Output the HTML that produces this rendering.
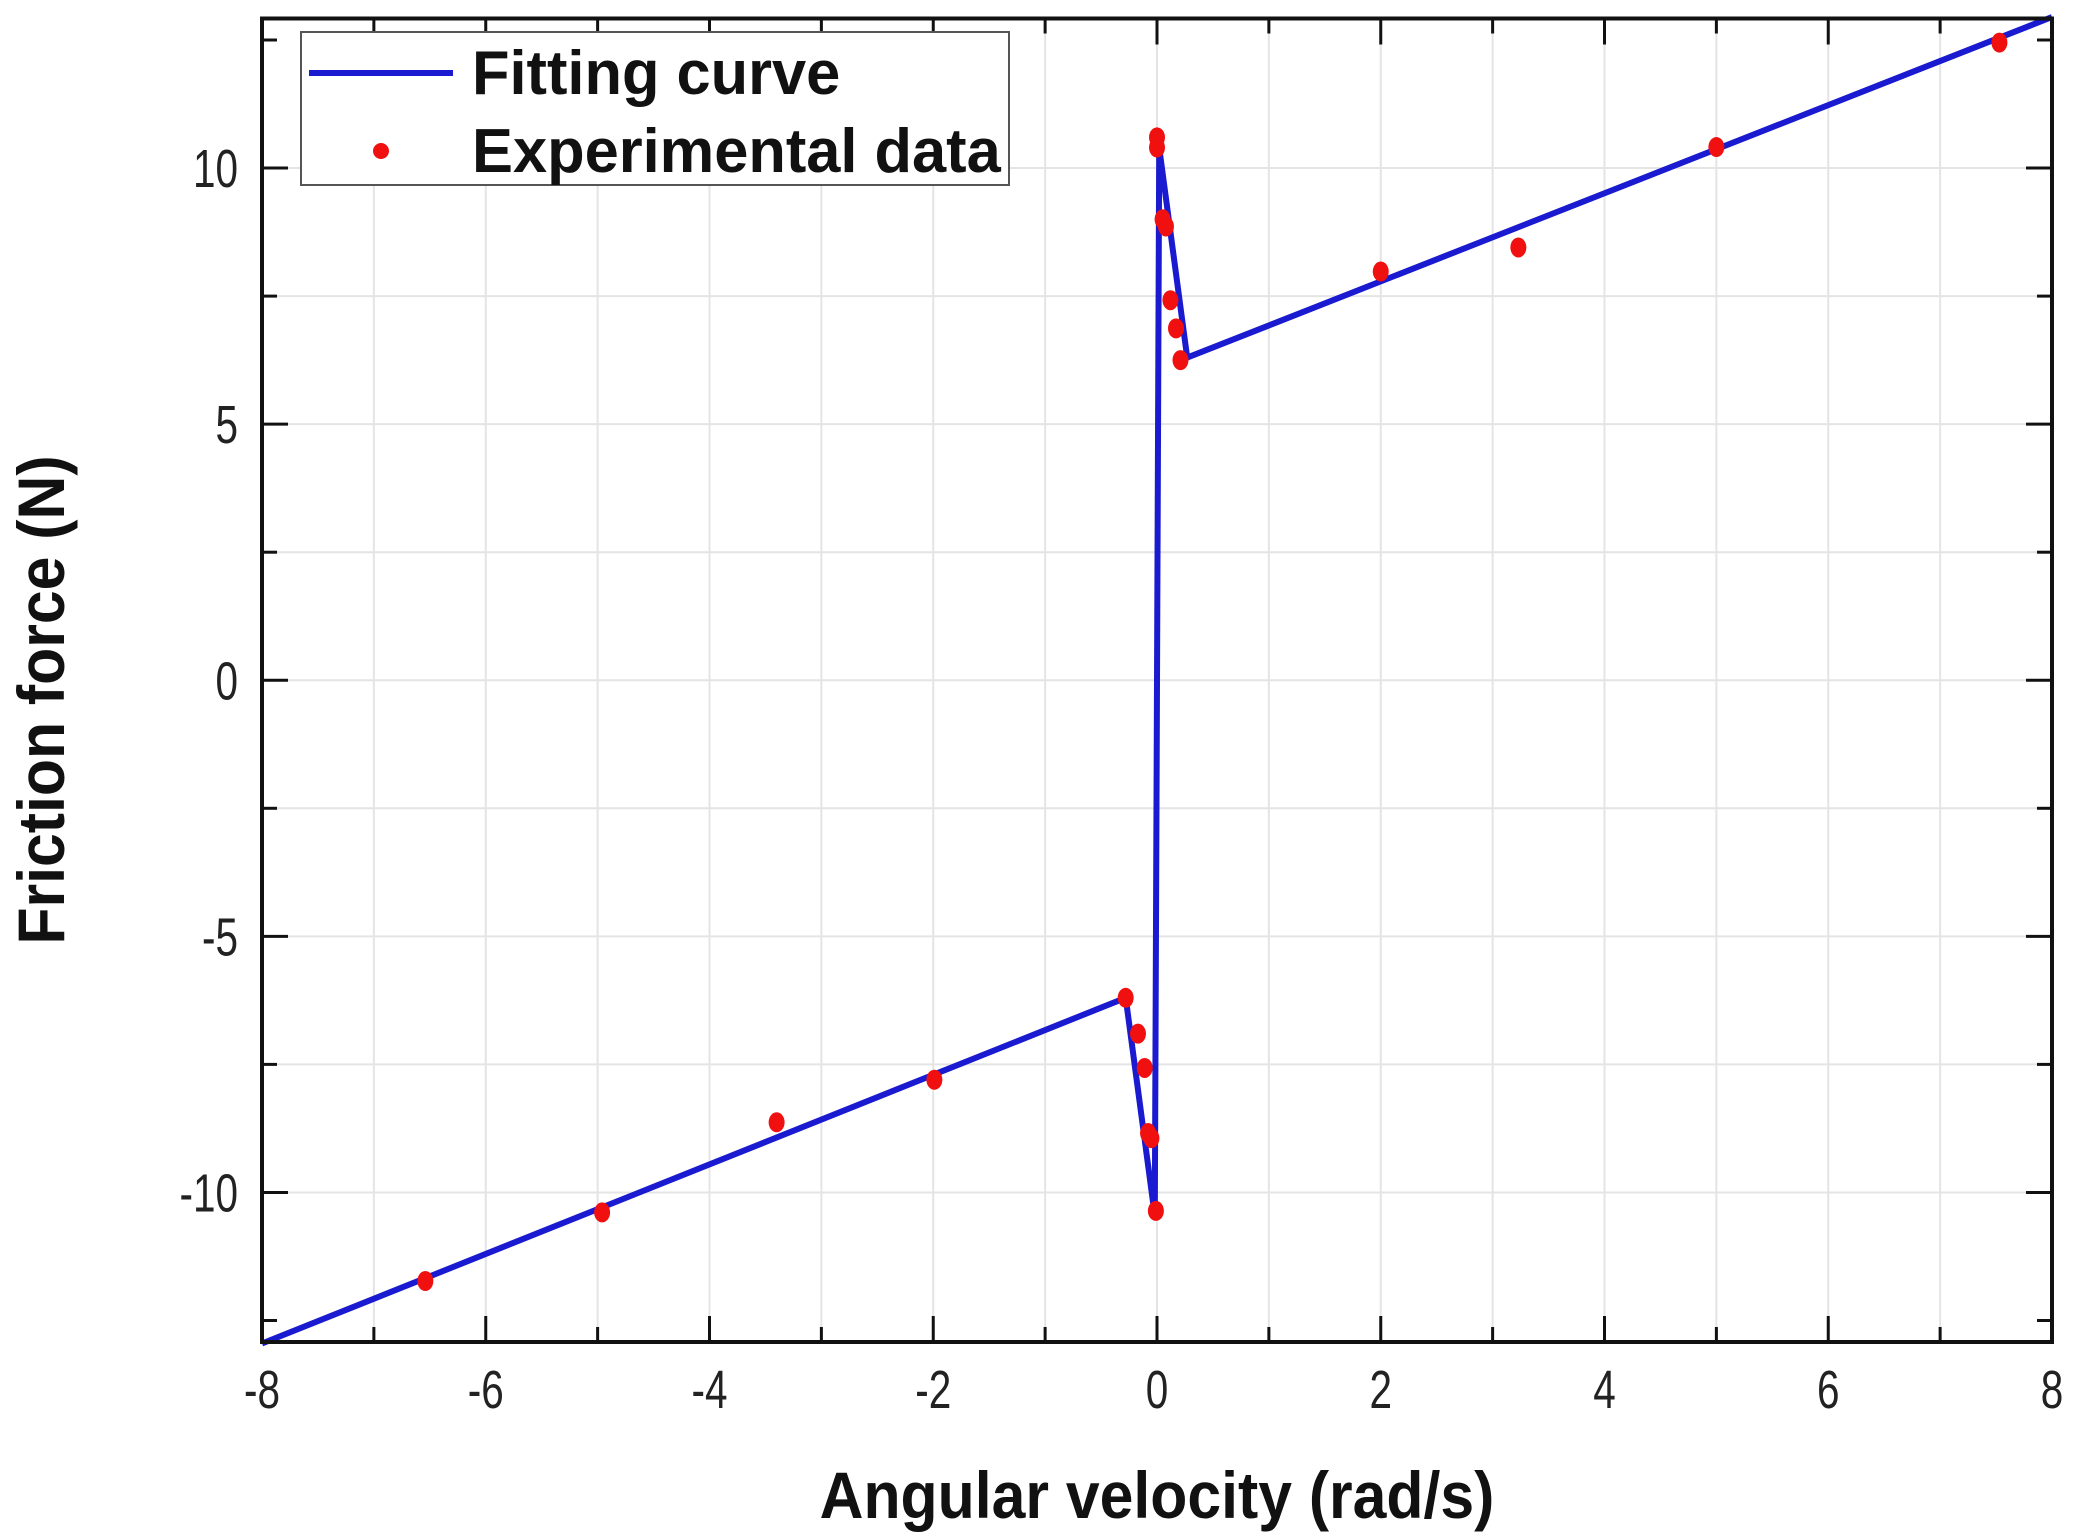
<!DOCTYPE html>
<html><head><meta charset="utf-8"><style>
html,body{margin:0;padding:0;background:#fff;}
svg{display:block;font-family:"Liberation Sans",Arial,sans-serif;}
</style></head><body>
<svg id="chart" width="2073" height="1537" viewBox="0 0 2073 1537" xmlns="http://www.w3.org/2000/svg">
<rect width="2073" height="1537" fill="#fff"/>
<g id="grid"></g>
<g id="ticks"></g>
<g id="labels"></g>
<g id="series"></g>
<rect x="262" y="18.5" width="1790" height="1323.5" fill="none" stroke="#111" stroke-width="4"/>
<text x="0" y="0" text-anchor="middle" font-size="66" font-weight="bold" fill="#111" transform="translate(1157 1518) scale(0.92 1)">Angular velocity (rad/s)</text>
<text x="0" y="0" text-anchor="middle" font-size="66" font-weight="bold" fill="#111" transform="translate(64 700) rotate(-90) scale(0.92 1)">Friction force (N)</text>
<g>
<rect x="301" y="32" width="708" height="153" fill="#fff" stroke="#555" stroke-width="2"/>
<line x1="309" y1="73" x2="453" y2="73" stroke="#1a1ad0" stroke-width="6"/>
<text x="0" y="0" font-size="62" font-weight="bold" fill="#111" transform="translate(472 94) scale(0.99 1)">Fitting curve</text>
<circle cx="381" cy="151" r="8" fill="#f01010"/>
<text x="0" y="0" font-size="62" font-weight="bold" fill="#111" transform="translate(472 172) scale(0.99 1)">Experimental data</text>
</g>
</svg>
<script>
const xTicks = [-8,-6,-4,-2,0,2,4,6,8];
const yTicks = [-10,-5,0,5,10];
const expX = [-6.54,-4.96,-3.40,-1.99,-0.28,-0.17,-0.11,-0.08,-0.05,-0.01,0,0,0.05,0.08,0.12,0.17,0.21,2.0,3.23,5.0,7.53];
const expY = [-11.73,-10.39,-8.63,-7.80,-6.20,-6.90,-7.57,-8.84,-8.94,-10.36,10.6,10.4,9.0,8.86,7.42,6.87,6.25,7.98,8.45,10.41,12.45];
const fitX = [-8,-0.28,-0.02,0.02,0.27,8];
const fitY = [-12.95,-6.2,-10.45,10.4,6.3,12.95];

const X0=262, X1=2052, Y0=18.5, Y1=1342;
const xMin=-8, xMax=8, yMin=-12.92, yMax=12.92;
const sx = v => X0 + (v - xMin) / (xMax - xMin) * (X1 - X0);
const sy = v => Y1 - (v - yMin) / (yMax - yMin) * (Y1 - Y0);
const NS = "http://www.w3.org/2000/svg";
function mk(tag, attrs, parent){
  const e = document.createElementNS(NS, tag);
  for (const k in attrs) e.setAttribute(k, attrs[k]);
  document.getElementById(parent).appendChild(e);
  return e;
}
for (let v = -7; v <= 7; v += 1) {
  const l = mk('line', {x1:sx(v), x2:sx(v), y1:Y0, y2:Y1, stroke:'#e4e4e4', 'stroke-width':2}, 'grid');
  
  
}
for (let v = -10; v <= 10; v += 2.5) {
  const l = mk('line', {x1:X0, x2:X1, y1:sy(v), y2:sy(v), stroke:'#e4e4e4', 'stroke-width':2}, 'grid');
  
  
}
for (let v = -7; v <= 7; v += 1) {
  const len = (v % 2 === 0) ? 26 : 15;
  const a = mk('line', {x1:sx(v), x2:sx(v), y1:Y1, y2:Y1-len, stroke:'#111', 'stroke-width':3}, 'ticks');
  
  
  const b = mk('line', {x1:sx(v), x2:sx(v), y1:Y0, y2:Y0+len, stroke:'#111', 'stroke-width':3}, 'ticks');
  
  
}
for (let v = -12.5; v <= 12.5; v += 2.5) {
  const len = (Math.abs(v % 5) < 1e-6) ? 26 : 15;
  const a = mk('line', {x1:X0, x2:X0+len, y1:sy(v), y2:sy(v), stroke:'#111', 'stroke-width':3}, 'ticks');
  
  
  const b = mk('line', {x1:X1, x2:X1-len, y1:sy(v), y2:sy(v), stroke:'#111', 'stroke-width':3}, 'ticks');
  
  
}
xTicks.forEach(v => {
  const t = mk('text', {x:0, y:0, 'text-anchor':'middle', 'font-size':54, fill:'#222',
    transform:`translate(${sx(v)} 1408) scale(0.75 1)`}, 'labels');
  t.textContent = v;
  
  
});
yTicks.forEach(v => {
  const t = mk('text', {x:0, y:0, 'text-anchor':'end', 'font-size':54, fill:'#222',
    transform:`translate(238 ${sy(v)+19}) scale(0.75 1)`}, 'labels');
  t.textContent = v;
  
  
});
const pts = fitX.map((x,i) => sx(x).toFixed(1) + ',' + sy(fitY[i]).toFixed(1)).join(' ');
const pl = mk('polyline', {points:pts, fill:'none', stroke:'#1a1ad0', 'stroke-width':6, 'stroke-linejoin':'round'}, 'series');


expX.forEach((x,i) => {
  const c = mk('ellipse', {cx:sx(x), cy:sy(expY[i]), rx:8, ry:10, fill:'#f01010'}, 'series');
  
  
});
</script>
</body></html>
